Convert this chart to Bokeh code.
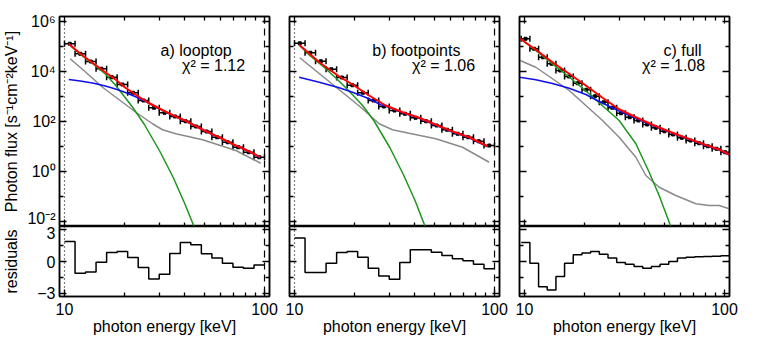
import numpy as np
from bokeh.plotting import figure
from bokeh.models import (Range1d, LogAxis, LinearAxis, FixedTicker, Span, Label,
                          Whisker, TeeHead, ColumnDataSource, CustomJSTickFormatter)
from bokeh.layouts import gridplot
from bokeh.embed import file_html
from bokeh.resources import INLINE

FONT = "Liberation Sans"

# ---------------- data ----------------
# energy bin edges [keV]
edges_ab = [10.0, 11.29, 12.74, 14.38, 16.24, 18.33, 20.69, 23.36, 26.37, 29.76, 33.60,
            37.93, 42.81, 48.33, 54.56, 61.58, 69.52, 78.48, 88.59, 100.0]
edges_c = [9.627, 10.64, 11.76, 12.99, 14.36, 15.86, 17.53, 19.38, 21.41, 23.66, 26.15,
           28.90, 31.93, 35.29, 39.00, 43.10, 47.63, 52.63, 58.16, 64.27, 71.02, 78.49,
           86.74, 95.87, 105.9]

# measured photon flux, log10 [s^-1 cm^-2 keV^-1]
flux_a = [5.11, 4.71, 4.40, 4.11, 3.77, 3.48, 3.15, 2.84, 2.55, 2.35, 2.20, 2.01, 1.80,
          1.60, 1.37, 1.17, 0.97, 0.77, 0.57]
flux_b = [5.13, 4.75, 4.41, 4.09, 3.76, 3.45, 3.15, 2.84, 2.60, 2.44, 2.31, 2.15, 2.01,
          1.84, 1.67, 1.51, 1.37, 1.21, 1.04]
flux_c = [5.31, 4.91, 4.57, 4.31, 4.04, 3.80, 3.53, 3.27, 3.01, 2.77, 2.55, 2.33, 2.17,
          2.04, 1.88, 1.75, 1.61, 1.48, 1.35, 1.24, 1.13, 1.01, 0.91, 0.77]

# normalised residuals
resid_a = [1.89, -1.10, -1.00, -0.06, 0.85, 0.95, 0.38, -0.57, -1.64, -1.20, 0.76, 1.80,
           1.58, 0.73, 0.32, -0.16, -0.54, -0.63, -0.32]
resid_b = [2.21, -1.04, -1.04, -0.16, 0.85, 0.95, 0.41, -0.63, -1.36, -1.67, -0.09, 1.10,
           1.10, 0.88, 0.57, 0.25, 0.06, -0.25, -0.69]
resid_c = [1.80, -0.16, -2.37, -2.68, -1.42, -0.16, 0.63, 0.79, 0.95, 0.69, 0.32, -0.09,
           -0.25, -0.47, -0.63, -0.47, -0.25, 0.00, 0.32, 0.41, 0.44, 0.47, 0.50, 0.54]

# model curves (energy [keV], log10 flux)
red_a_E = [10.5, 12, 14, 16, 18, 20, 23, 26, 30, 35, 40, 50, 60, 70, 80, 90, 95]
red_a = [5.11, 4.71, 4.31, 3.97, 3.68, 3.37, 3.04, 2.77, 2.51, 2.24, 2.04, 1.64, 1.35,
         1.08, 0.88, 0.68, 0.57]
green_a_E = [10.5, 12, 14, 16, 18, 20, 22, 25, 30, 35, 40, 46]
green_a = [5.09, 4.68, 4.28, 3.90, 3.45, 2.98, 2.55, 1.90, 0.80, -0.25, -1.30, -2.50]
blue_a_E = [10.5, 12, 14, 16, 18, 20, 23, 26, 30, 35, 40, 50, 60, 70, 80, 90, 95]
blue_a = [3.68, 3.62, 3.53, 3.42, 3.30, 3.17, 2.97, 2.76, 2.50, 2.23, 2.03, 1.63, 1.34,
          1.07, 0.87, 0.67, 0.56]
gray_a_E = [10.67, 12.79, 15.49, 18.77, 22.74, 27.54, 30.9, 36.04, 48.98, 71.9, 95.8]
gray_a = [4.51, 3.97, 3.37, 2.87, 2.37, 1.91, 1.67, 1.51, 1.27, 0.84, 0.33]

red_b_E = [10.55, 13.29, 16.73, 19.5, 23.6, 28.6, 34.7, 42.0, 50.9, 61.7, 74.7, 92.3]
red_b = [5.07, 4.37, 3.80, 3.48, 3.04, 2.64, 2.37, 2.15, 1.87, 1.60, 1.37, 1.01]
green_b_E = [10.55, 12, 14, 16, 18, 20, 22, 25, 30, 35, 40, 46]
green_b = [5.06, 4.62, 4.18, 3.76, 3.36, 2.98, 2.62, 2.02, 0.95, -0.12, -1.15, -2.40]
blue_b_E = [10.55, 13.29, 16.73, 19.5, 23.6, 27.0, 28.6, 34.7, 42.0, 50.9, 61.7, 74.7, 92.3]
blue_b = [3.77, 3.57, 3.35, 3.17, 2.91, 2.67, 2.62, 2.35, 2.13, 1.85, 1.58, 1.35, 0.99]
gray_b_E = [10.63, 13.29, 16.73, 19.5, 21.88, 26.5, 30.9, 37.4, 50.9, 69.2, 94.0]
gray_b = [4.55, 3.92, 3.27, 2.84, 2.51, 1.91, 1.67, 1.53, 1.31, 0.97, 0.37]

red_c_E = [9.44, 11.39, 13.8, 16.73, 20.26, 24.55, 29.74, 36.04, 43.65, 52.9, 64.07,
           77.6, 94.0, 105.5]
red_c = [5.33, 4.87, 4.37, 3.91, 3.44, 2.95, 2.49, 2.17, 1.87, 1.60, 1.35, 1.11, 0.88, 0.68]
green_c_E = [9.44, 11.39, 13.8, 16.73, 20.26, 23.6, 29.74, 36.04, 42.0, 47.1, 52.9, 54.0]
green_c = [5.33, 4.84, 4.30, 3.78, 3.22, 2.75, 2.04, 1.11, -0.03, -0.96, -2.03, -2.25]
blue_c_E = [9.44, 11.39, 13.8, 16.73, 20.26, 23.6, 29.74, 36.04, 43.65, 52.9, 64.07,
            77.6, 94.0, 105.5]
blue_c = [3.77, 3.67, 3.52, 3.33, 3.08, 2.80, 2.42, 2.13, 1.84, 1.58, 1.33, 1.09, 0.86, 0.66]
gray_c_E = [9.44, 11.39, 13.8, 16.73, 20.26, 24.55, 29.74, 36.04, 40.44, 47.13, 57.1,
            71.9, 83.8, 94.0, 105.5]
gray_c = [4.45, 4.17, 3.71, 3.24, 2.64, 2.04, 1.37, 0.57, -0.16, -0.63, -0.96, -1.29,
          -1.36, -1.36, -1.49]

titles = ["a) looptop", "b) footpoints", "c) full"]
chi2 = ["\u03c7\u00b2 = 1.12", "\u03c7\u00b2 = 1.06", "\u03c7\u00b2 = 1.08"]
title_x = [30.2, 24.5, 49.5]

# tick values
x_major = [10, 100]
x_minor = [20, 30, 40, 50, 60, 70, 80, 90]
y_major = [1e-2, 1e0, 1e2, 1e4, 1e6]
y_minor = [1e-1, 1e1, 1e3, 1e5]
r_major = [-3, 0, 3]
r_minor = [-1.5, 1.5]

# ---------------- styling ----------------
X_RANGE = (9.44, 105.9)
Y_TOP = (10 ** -2.2, 10 ** 6.2)
Y_RES = (-3.3, 3.3)
C_RED, C_GREEN, C_BLUE, C_GRAY = "#ff0000", "#1f961f", "#1010ee", "#8a8a8a"

SUP_JS = """
const e = Math.round(Math.log10(tick));
const m = {'-':'\\u207b','0':'\\u2070','1':'\\u00b9','2':'\\u00b2','3':'\\u00b3',
           '4':'\\u2074','5':'\\u2075','6':'\\u2076','7':'\\u2077','8':'\\u2078','9':'\\u2079'};
return '10' + String(e).split('').map(c => m[c]).join('');
"""


def style_axis(ax, major, minor, labels=False, fmt_code=None):
    ax.ticker = FixedTicker(ticks=major, minor_ticks=minor)
    ax.major_tick_in = 7
    ax.major_tick_out = 0
    ax.minor_tick_in = 4
    ax.minor_tick_out = 0
    ax.axis_line_width = 1.5
    ax.axis_line_color = "black"
    ax.major_tick_line_width = 1.3
    ax.minor_tick_line_width = 1.3
    ax.major_label_text_font = FONT
    ax.major_label_text_color = "black"
    ax.axis_label_text_font = FONT
    ax.axis_label_text_font_style = "normal"
    ax.axis_label_text_font_size = "16px"
    ax.axis_label_text_color = "black"
    if labels:
        ax.major_label_text_font_size = "16px"
        ax.major_label_standoff = 4
        if fmt_code:
            ax.formatter = CustomJSTickFormatter(code=fmt_code)
    else:
        ax.major_label_text_font_size = "1px"
        ax.major_label_standoff = 0
        ax.formatter = CustomJSTickFormatter(code="return '';")


def make_fig(i, top):
    left = 57 if i == 0 else 10
    fig = figure(
        x_axis_type="log", y_axis_type="log" if top else "linear",
        x_range=Range1d(*X_RANGE),
        y_range=Range1d(*(Y_TOP if top else Y_RES)),
        frame_width=210, frame_height=210 if top else 70,
        min_border_left=left, min_border_right=10,
        min_border_top=16 if top else 0, min_border_bottom=0 if top else 43,
        toolbar_location=None, output_backend="svg",
    )
    fig.xgrid.visible = False
    fig.ygrid.visible = False
    fig.outline_line_color = "black"
    fig.outline_line_width = 1.5
    fig.background_fill_color = "white"
    fig.border_fill_color = "white"
    if top:
        style_axis(fig.xaxis[0], x_major, x_minor)
        style_axis(fig.yaxis[0], y_major, y_minor, labels=(i == 0), fmt_code=SUP_JS)
        ra = LogAxis()
        style_axis(ra, y_major, y_minor)
        fig.add_layout(ra, "right")
        ta = LogAxis()
        style_axis(ta, x_major, x_minor)
        fig.add_layout(ta, "above")
        if i == 0:
            fig.yaxis[0].axis_label = "Photon flux [s\u207b\u00b9cm\u207b\u00b2keV\u207b\u00b9]"
            fig.yaxis[0].axis_label_standoff = 4
    else:
        style_axis(fig.xaxis[0], x_major, x_minor, labels=True,
                   fmt_code="return String(Math.round(tick));")
        fig.xaxis[0].major_label_standoff = 6
        fig.xaxis[0].axis_label = "photon energy [keV]"
        fig.xaxis[0].axis_label_standoff = 0
        style_axis(fig.yaxis[0], r_major, r_minor, labels=(i == 0),
                   fmt_code="return tick < 0 ? '\\u2212' + Math.abs(tick) : String(tick);")
        if i == 0:
            fig.yaxis[0].axis_label = "residuals"
            fig.yaxis[0].axis_label_standoff = 14
        ra = LinearAxis()
        style_axis(ra, r_major, r_minor)
        fig.add_layout(ra, "right")
    return fig


panels = [
    dict(edges=edges_ab, flux=flux_a, resid=resid_a,
         red=(red_a_E, red_a), green=(green_a_E, green_a), blue=(blue_a_E, blue_a),
         gray=(gray_a_E, gray_a), lines=True),
    dict(edges=edges_ab, flux=flux_b, resid=resid_b,
         red=(red_b_E, red_b), green=(green_b_E, green_b), blue=(blue_b_E, blue_b),
         gray=(gray_b_E, gray_b), lines=True),
    dict(edges=edges_c, flux=flux_c, resid=resid_c,
         red=(red_c_E, red_c), green=(green_c_E, green_c), blue=(blue_c_E, blue_c),
         gray=(gray_c_E, gray_c), lines=False),
]

tops, bots = [], []
for i, pd_ in enumerate(panels):
    t = make_fig(i, True)
    b = make_fig(i, False)
    edges = np.array(pd_["edges"])
    lo, hi = edges[:-1], edges[1:]
    ctr = np.sqrt(lo * hi)
    flux = 10 ** np.array(pd_["flux"])
    src = ColumnDataSource(dict(x=ctr, y=flux, lo=lo, hi=hi))

    t.add_layout(Whisker(source=src, base="y", lower="lo", upper="hi", dimension="width",
                         line_color="black", line_width=1.5, level="underlay",
                         lower_head=TeeHead(size=6, line_width=1.5, line_color="black"),
                         upper_head=TeeHead(size=6, line_width=1.5, line_color="black")))
    t.scatter("x", "y", source=src, marker="square", size=3, color="black")

    for key, col, w in (("gray", C_GRAY, 1.5), ("green", C_GREEN, 1.5),
                        ("blue", C_BLUE, 1.5), ("red", C_RED, 2.0)):
        E, L = pd_[key]
        t.line(E, 10 ** np.array(L), line_color=col, line_width=w)

    # residual step histogram
    rv = list(pd_["resid"]) + [pd_["resid"][-1]]
    b.step(list(edges), rv, mode="after", line_color="black", line_width=1.5)

    if pd_["lines"]:
        for fig in (t, b):
            fig.add_layout(Span(location=10, dimension="height", line_color="black",
                                line_width=1.2, line_dash="1 3"))
            fig.add_layout(Span(location=100, dimension="height", line_color="black",
                                line_width=1.2, line_dash="7 5"))

    t.add_layout(Label(x=title_x[i], y=10 ** 4.84, text=titles[i], text_font=FONT,
                       text_font_size="16px", text_color="black",
                       text_baseline="alphabetic", text_align="left"))
    t.add_layout(Label(x=38.7, y=10 ** 4.24, text=chi2[i], text_font=FONT,
                       text_font_size="16px", text_color="black",
                       text_baseline="alphabetic", text_align="left"))
    tops.append(t)
    bots.append(b)

grid = gridplot([tops, bots], toolbar_location=None)

open("out.html", "w").write(file_html(grid, INLINE))
